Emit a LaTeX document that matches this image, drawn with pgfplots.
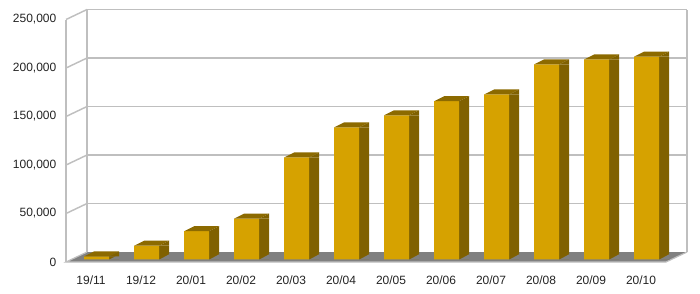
\documentclass[border=0pt]{standalone}
\usepackage{pgfplots}
\pgfplotsset{compat=1.18}
\usepackage{pgfplotstable}
\usepackage{fontspec}
\setmainfont{Liberation Sans}
\definecolor{barfront}{RGB}{214,162,0}
\definecolor{barside}{RGB}{128,97,0}
\definecolor{bartopc}{RGB}{140,106,0}
\definecolor{floorc}{RGB}{128,128,128}
\definecolor{gridc}{RGB}{191,191,191}
\definecolor{txt}{RGB}{35,35,35}

\pgfplotstableread{
idx value
0 3000
1 14000
2 29000
3 42000
4 105000
5 136000
6 148500
7 163000
8 170000
9 201000
10 206000
11 209000
}\data

% top face + upper triangle of the side face, origin at front-top centre of the bar
\pgfdeclareplotmark{bartop}{%
  \pgfsetfillcolor{bartopc}%
  \pgfpathmoveto{\pgfpoint{-9.375pt}{0pt}}%
  \pgfpathlineto{\pgfpoint{9.375pt}{0pt}}%
  \pgfpathlineto{\pgfpoint{16.875pt}{3.75pt}}%
  \pgfpathlineto{\pgfpoint{-1.875pt}{3.75pt}}%
  \pgfpathclose\pgfusepath{fill}%
  \pgfsetfillcolor{barside}%
  \pgfpathmoveto{\pgfpoint{9.375pt}{0pt}}%
  \pgfpathlineto{\pgfpoint{16.875pt}{3.75pt}}%
  \pgfpathlineto{\pgfpoint{16.875pt}{0pt}}%
  \pgfpathclose\pgfusepath{fill}%
}
% floor-coloured triangle under the slanted bottom edge of the side face
\pgfdeclareplotmark{floorpatch}{%
  \pgfsetfillcolor{floorc}%
  \pgfpathmoveto{\pgfpoint{9.375pt}{-0.3pt}}%
  \pgfpathlineto{\pgfpoint{17.2pt}{-0.3pt}}%
  \pgfpathlineto{\pgfpoint{17.2pt}{3.9pt}}%
  \pgfpathclose\pgfusepath{fill}%
}

\begin{document}
\begin{tikzpicture}
\path[use as bounding box] (-53.775pt,-25.275pt) rectangle (471.225pt,194.475pt);
\begin{axis}[
  at={(0pt,0pt)}, anchor=south west,
  scale only axis, width=450pt, height=181.875pt,
  xmin=-0.5, xmax=11.5, ymin=0, ymax=250000,
  clip=false,
  axis line style={draw=none},
  major tick length=0pt,
  tick style={draw=none},
  xtick={0,1,...,11},
  xticklabels={19/11,19/12,20/01,20/02,20/03,20/04,20/05,20/06,20/07,20/08,20/09,20/10},
  ytick={0,50000,100000,150000,200000,250000},
  scaled y ticks=false,
  /pgf/number format/fixed,
  /pgf/number format/assume math mode=true,
  /pgf/number format/1000 sep={,},
  ticklabel style={font=\fontsize{9}{10}\selectfont, text=txt},
  yticklabel style={anchor=east, xshift=-8pt, yshift=-2pt},
  xticklabel style={anchor=center, yshift=-15.5pt, xshift=-4.25pt},
]
% floor
\fill[floorc] (axis cs:-0.6134,-2783) -- (axis cs:11.3866,-2783) -- (axis cs:11.8066,7526) -- (axis cs:-0.1934,7526) -- cycle;
\draw[gridc, line width=0.9pt] (axis cs:-0.1934,7526) -- (axis cs:-0.6134,-2783) -- (axis cs:11.3866,-2783) -- (axis cs:11.8066,7526);
% back wall grid lines
\draw[gridc, line width=1.1pt] (axis cs:-0.1934,57526) -- (axis cs:11.8066,57526);
\draw[gridc, line width=1.1pt] (axis cs:-0.1934,107526) -- (axis cs:11.8066,107526);
\draw[gridc, line width=1.1pt] (axis cs:-0.1934,157526) -- (axis cs:11.8066,157526);
\draw[gridc, line width=1.1pt] (axis cs:-0.1934,207526) -- (axis cs:11.8066,207526);
\draw[gridc, line width=1.1pt] (axis cs:-0.1934,257526) -- (axis cs:11.8066,257526);
% left wall grid lines
\draw[gridc, line width=1.1pt] (axis cs:-0.6134,47217) -- (axis cs:-0.1934,57526);
\draw[gridc, line width=1.1pt] (axis cs:-0.6134,97217) -- (axis cs:-0.1934,107526);
\draw[gridc, line width=1.1pt] (axis cs:-0.6134,147217) -- (axis cs:-0.1934,157526);
\draw[gridc, line width=1.1pt] (axis cs:-0.6134,197217) -- (axis cs:-0.1934,207526);
\draw[gridc, line width=1.1pt] (axis cs:-0.6134,247217) -- (axis cs:-0.1934,257526);
% wall edges
\draw[gridc, line width=1.1pt] (axis cs:-0.6134,-2783) -- (axis cs:-0.6134,247217);
\draw[gridc, line width=1.1pt] (axis cs:-0.1934,7526) -- (axis cs:-0.1934,257526);
\draw[gridc, line width=1.1pt] (axis cs:11.8066,7526) -- (axis cs:11.8066,257526);
% bars
\addplot[ybar, bar width=0.2, bar shift=0.35, fill=barside, draw=none] table[x=idx,y=value]{\data};
\addplot[only marks, mark=floorpatch] table[x=idx,y expr=0]{\data};
\addplot[ybar, bar width=0.5, bar shift=0, fill=barfront, draw=none] table[x=idx,y=value]{\data};
\addplot[only marks, mark=bartop] table[x=idx,y=value]{\data};
\end{axis}
\end{tikzpicture}
\end{document}
